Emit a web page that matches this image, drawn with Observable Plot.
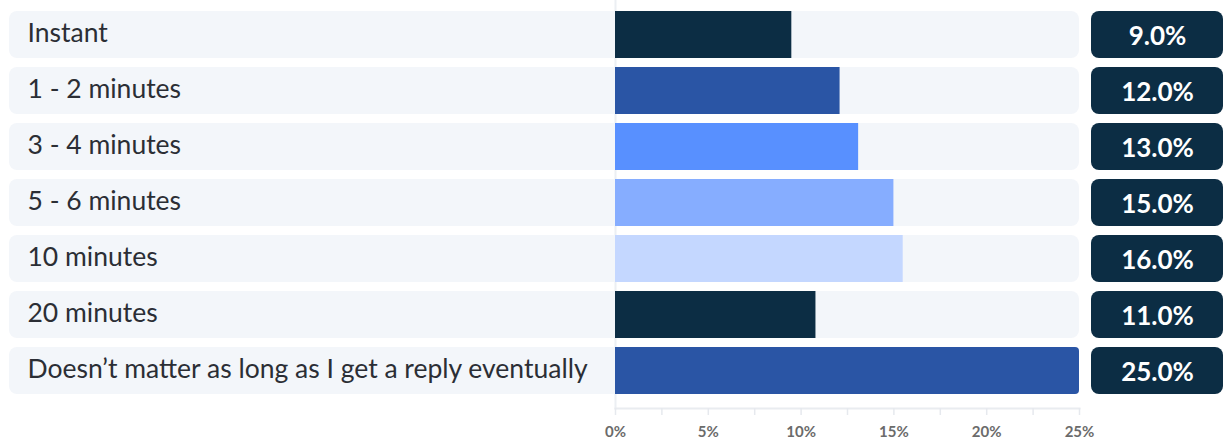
<!DOCTYPE html>
<html>
<head>
<meta charset="utf-8">
<script src="https://cdn.jsdelivr.net/npm/d3@7"></script>
<script src="https://cdn.jsdelivr.net/npm/@observablehq/plot@0.6"></script>
<style>
  html, body { margin: 0; padding: 0; background: #ffffff; }
  #chart svg { display: block; }
</style>
</head>
<body>
<div id="chart"></div>
<script>
// ---- data ----
const categories = [
  "Instant",
  "1 - 2 minutes",
  "3 - 4 minutes",
  "5 - 6 minutes",
  "10 minutes",
  "20 minutes",
  "Doesn\u2019t matter as long as I get a reply eventually"
];
// bar lengths as drawn (percent)
const values = [9.5, 12.1, 13.1, 15.0, 15.5, 10.8, 25.0];
// printed value labels
const valueLabels = ["9.0%", "12.0%", "13.0%", "15.0%", "16.0%", "11.0%", "25.0%"];
const xTicksMajor = [0, 5, 10, 15, 20, 25];
const xTicksMinor = [0, 2.5, 5, 7.5, 10, 12.5, 15, 17.5, 20, 22.5, 25];

// ---- styles ----
const palette = ["#0c2d44", "#2a55a5", "#5890ff", "#86adff", "#c4d7ff"];
const navy = "#0c2d44";
const rowBg = "#f3f6fa";

const data = categories.map((c, i) => ({label: c, value: values[i], text: valueLabels[i], idx: i}));
const xMax = 25;

const chart = Plot.plot({
  width: 1224,
  height: 441,
  marginLeft: 615,
  marginRight: 145,
  marginTop: 0,
  marginBottom: 33,
  style: {fontFamily: "Lato, 'Noto Sans', sans-serif", background: "#ffffff"},
  x: {domain: [0, xMax], axis: null},
  y: {type: "band", domain: categories, range: [10, 395], paddingInner: 0.165, paddingOuter: 0, axis: null},
  marks: [
    Plot.frame({anchor: "left", stroke: "#eceff3", strokeWidth: 2}),
    // row backgrounds
    Plot.barX(data, {x1: 0, x2: xMax, y: "label", fill: rowBg, insetLeft: -606, rx: 8}),
    // bars (square ends)
    Plot.barX(data, {filter: d => d.value < xMax, x: "value", y: "label", fill: d => palette[d.idx % palette.length]}),
    // full-length bar: rounded right end
    Plot.barX(data, {filter: d => d.value >= xMax, x: "value", y: "label", fill: d => palette[d.idx % palette.length], rx: 4}),
    Plot.barX(data, {filter: d => d.value >= xMax, x: "value", y: "label", fill: d => palette[d.idx % palette.length], insetRight: 8}),
    // category labels
    Plot.text(data, {x: 0, y: "label", text: "label", textAnchor: "start", dx: -588, dy: -1, fontSize: 26.5, fill: "#2b2e35"}),
    // value boxes
    Plot.barX(data, {x1: xMax, x2: xMax, y: "label", fill: navy, insetLeft: 12, insetRight: -144, rx: 8}),
    Plot.text(data, {x: xMax, y: "label", text: "text", dx: 78, dy: 1.5, fontSize: 26, fontWeight: 700, fill: "#ffffff"}),
    // axis
    Plot.frame({anchor: "bottom", stroke: "#e9ecf0", strokeWidth: 2}),
    Plot.axisX({ticks: xTicksMinor, tickSize: 7, tickFormat: () => "", label: null, stroke: "#e6e9ee", strokeWidth: 1.5}),
    Plot.axisX({ticks: xTicksMajor, tickSize: 0, tickPadding: 18, tickFormat: d => d + "%", label: null, fontSize: 15, fontWeight: 700, fill: "#6b6b6b"})
  ]
});
document.getElementById("chart").appendChild(chart);
</script>
</body>
</html>
